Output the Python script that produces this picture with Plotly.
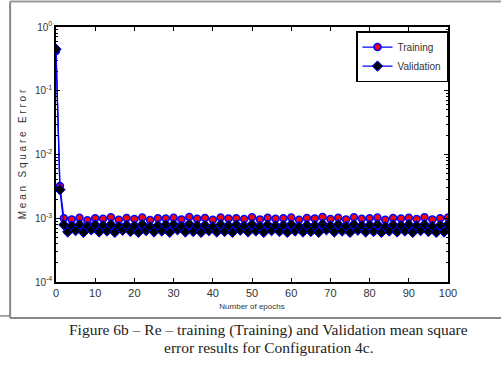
import plotly.graph_objects as go

epochs = list(range(0, 101))

training = [
    0.42, 3.2e-3, 1.0e-3, 6.6e-4, 9.6e-4, 7.0e-4, 1.02e-3, 6.5e-4, 9.3e-4, 7.4e-4,
    1.0e-3, 6.6e-4, 9.8e-4, 6.8e-4, 1.04e-3, 6.5e-4, 9.5e-4, 7.2e-4, 1.01e-3, 6.6e-4,
    9.7e-4, 6.6e-4, 1.03e-3, 7.1e-4, 9.4e-4, 6.7e-4, 1.0e-3, 6.9e-4, 9.9e-4, 6.5e-4,
    1.02e-3, 7.3e-4, 9.6e-4, 6.6e-4, 1.05e-3, 6.7e-4, 9.8e-4, 6.6e-4, 1.01e-3, 7.0e-4,
    9.5e-4, 6.7e-4, 1.03e-3, 6.6e-4, 9.9e-4, 6.5e-4, 1.0e-3, 7.2e-4, 9.7e-4, 6.6e-4,
    1.04e-3, 6.8e-4, 9.6e-4, 6.6e-4, 1.02e-3, 7.1e-4, 9.8e-4, 6.5e-4, 1.0e-3, 6.5e-4,
    1.03e-3, 7.0e-4, 9.5e-4, 6.7e-4, 1.01e-3, 6.7e-4, 9.9e-4, 6.6e-4, 1.05e-3, 7.3e-4,
    9.7e-4, 6.6e-4, 1.02e-3, 6.9e-4, 9.6e-4, 6.5e-4, 1.04e-3, 7.1e-4, 9.8e-4, 6.7e-4,
    1.0e-3, 6.6e-4, 1.03e-3, 6.6e-4, 9.5e-4, 7.0e-4, 1.01e-3, 6.6e-4, 9.9e-4, 6.8e-4,
    1.02e-3, 6.5e-4, 9.7e-4, 7.2e-4, 1.04e-3, 6.5e-4, 9.6e-4, 6.6e-4, 1.0e-3, 6.9e-4, 1.03e-3,
]

validation = [
    0.45, 2.8e-3, 7.9e-4, 6.1e-4, 7.6e-4, 6.4e-4, 8.0e-4, 6.0e-4, 7.5e-4, 6.6e-4,
    7.9e-4, 6.1e-4, 7.7e-4, 6.3e-4, 8.0e-4, 6.0e-4, 7.4e-4, 6.5e-4, 7.8e-4, 6.2e-4,
    7.6e-4, 6.0e-4, 8.0e-4, 6.4e-4, 7.4e-4, 6.1e-4, 7.7e-4, 6.3e-4, 7.9e-4, 6.0e-4,
    8.0e-4, 6.6e-4, 7.5e-4, 6.1e-4, 8.1e-4, 6.2e-4, 7.7e-4, 6.0e-4, 7.8e-4, 6.4e-4,
    7.4e-4, 6.1e-4, 8.0e-4, 6.2e-4, 7.7e-4, 6.0e-4, 7.9e-4, 6.5e-4, 7.6e-4, 6.1e-4,
    8.0e-4, 6.3e-4, 7.5e-4, 6.0e-4, 7.9e-4, 6.4e-4, 7.7e-4, 6.2e-4, 7.8e-4, 6.0e-4,
    8.0e-4, 6.3e-4, 7.4e-4, 6.1e-4, 7.8e-4, 6.2e-4, 7.7e-4, 6.0e-4, 8.1e-4, 6.6e-4,
    7.6e-4, 6.1e-4, 8.0e-4, 6.3e-4, 7.5e-4, 6.0e-4, 8.0e-4, 6.5e-4, 7.7e-4, 6.1e-4,
    7.8e-4, 6.2e-4, 8.0e-4, 6.0e-4, 7.4e-4, 6.3e-4, 7.9e-4, 6.1e-4, 7.7e-4, 6.3e-4,
    8.0e-4, 6.0e-4, 7.6e-4, 6.4e-4, 8.0e-4, 6.2e-4, 7.5e-4, 6.0e-4, 7.8e-4, 6.1e-4, 8.0e-4,
]

x_ticks = [0, 10, 20, 30, 40, 50, 60, 70, 80, 90, 100]
y_tickvals = [1e-4, 1e-3, 1e-2, 1e-1, 1]
y_ticktext = ["10<sup>-4</sup>", "10<sup>-3</sup>", "10<sup>-2</sup>", "10<sup>-1</sup>", "10<sup>0</sup>"]
y_minor = [m * d for d in (1e-4, 1e-3, 1e-2, 1e-1) for m in range(2, 10)]

caption_1 = "Figure 6b \u2013 Re \u2013 training (Training) and Validation mean square"
caption_2 = "error results for Configuration 4c."

tick_font = dict(family="Liberation Sans Narrow, Liberation Sans", size=10, color="#333")

fig = go.Figure()
fig.add_trace(go.Scatter(
    x=epochs, y=training, name="Training", mode="lines+markers",
    line=dict(color="#0000ff", width=1.3),
    marker=dict(symbol="circle", size=7, color="#ff0000", line=dict(color="#0000ff", width=1.5)),
))
fig.add_trace(go.Scatter(
    x=epochs, y=validation, name="Validation", mode="lines+markers",
    line=dict(color="#0000ff", width=1.3),
    marker=dict(symbol="diamond", size=8, color="#000000", line=dict(color="#0000ff", width=1)),
))

fig.update_xaxes(
    range=[0, 100], tickvals=x_ticks, ticks="inside", ticklen=4, tickcolor="black",
    showline=True, linecolor="black", linewidth=1.5, mirror="allticks", showgrid=False, zeroline=False,
    tickfont=dict(family="Liberation Sans Narrow, Liberation Sans", size=11, color="#333"),
    title=dict(text="Number of epochs", font=dict(family="Liberation Sans Narrow, Liberation Sans", size=8, color="#333"), standoff=5),
)
fig.update_yaxes(
    type="log", range=[-4, 0], tickvals=y_tickvals, ticktext=y_ticktext,
    ticks="inside", ticklen=4, tickcolor="black",
    minor=dict(tickvals=y_minor, ticks="inside", ticklen=2, tickcolor="black"),
    showline=True, linecolor="black", linewidth=1.5, mirror="allticks", showgrid=False, zeroline=False,
    tickfont=tick_font,
    title=dict(text="M e a n   S q u a r e   E r r o r", font=dict(family="Liberation Sans", size=10, color="#333"), standoff=6),
)

fig.update_layout(
    width=501, height=375,
    margin=dict(l=56, r=53, t=27, b=93),
    paper_bgcolor="white", plot_bgcolor="white",
    showlegend=True,
    legend=dict(x=1.0, y=0.984, xanchor="right", yanchor="top",
                bordercolor="black", borderwidth=1.5, bgcolor="white",
                font=dict(family="Liberation Sans Narrow, Liberation Sans", size=10, color="#333"),
                tracegroupgap=0, itemwidth=30),
    annotations=[
        dict(text=caption_1, xref="paper", yref="paper", x=0.543, y=-0.190,
             xanchor="center", yanchor="middle", showarrow=False,
             font=dict(family="Liberation Serif", size=15.5, color="#222")),
        dict(text=caption_2, xref="paper", yref="paper", x=0.543, y=-0.258,
             xanchor="center", yanchor="middle", showarrow=False,
             font=dict(family="Liberation Serif", size=15.5, color="#222")),
    ],
    shapes=[
        dict(type="line", xref="paper", yref="paper", x0=-0.117, x1=-0.117, y0=1.10, y1=-0.141,
             line=dict(color="#888", width=2)),
        dict(type="line", xref="paper", yref="paper", x0=-0.117, x1=1.14, y0=-0.141, y1=-0.141,
             line=dict(color="#888", width=2)),
        dict(type="line", xref="paper", yref="paper", x0=-0.117, x1=1.14, y0=1.100, y1=1.100,
             line=dict(color="#999", width=2)),
        dict(type="line", xref="paper", yref="paper", x0=-0.15, x1=-0.117, y0=-0.133, y1=-0.133,
             line=dict(color="#888", width=1.5)),
    ],
)

fig.write_html("out.html")
